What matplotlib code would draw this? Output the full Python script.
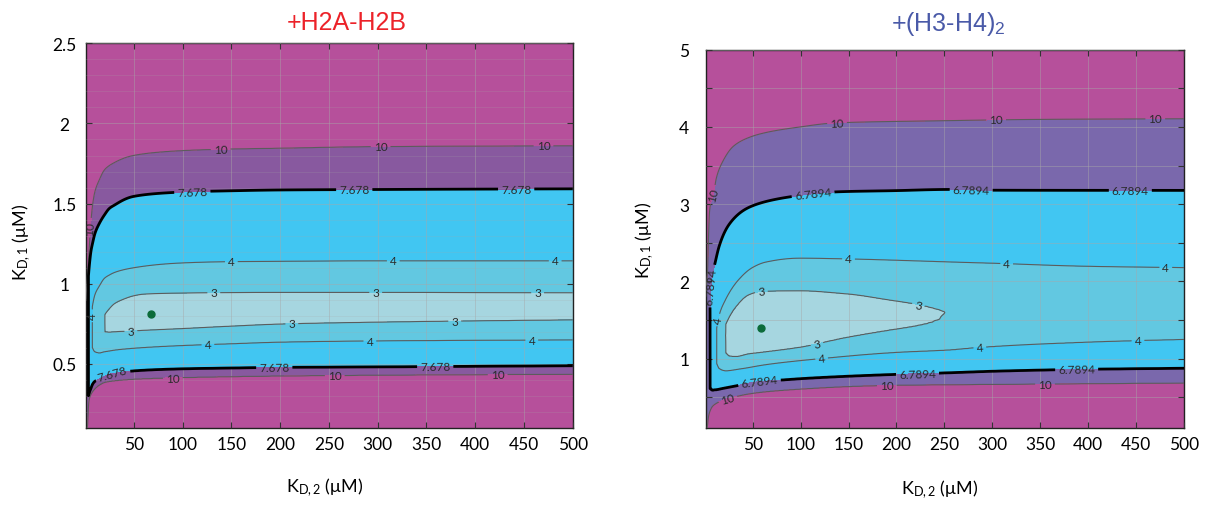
import numpy as np
import matplotlib
matplotlib.use('Agg')
import matplotlib.pyplot as plt
from matplotlib.ticker import MultipleLocator, FixedLocator

plt.rcParams['font.family'] = ['Lato', 'DejaVu Sans']
plt.rcParams['mathtext.fontset'] = 'custom'
plt.rcParams['mathtext.rm'] = 'Lato'
plt.rcParams['mathtext.it'] = 'Lato:italic'

# ------------------------------------------------------------------
# Data: contour crossings (KD,2 -> KD,1), levels
# ------------------------------------------------------------------
# Left panel: +H2A-H2B
L_title = '+H2A-H2B'
L_levels = [3, 4, 7.678, 10]
L_lo10_x = [1, 2.5, 4, 6, 8, 10, 15, 20, 30, 50, 100, 200, 300, 500]
L_lo10_y = [0.05, 0.11, 0.27, 0.31, 0.33, 0.345, 0.37, 0.385, 0.395, 0.405, 0.415, 0.425, 0.43, 0.436]
L_hi10_x = [1, 2.5, 4, 6, 8, 10, 15, 20, 30, 50, 100, 150, 200, 300, 500]
L_hi10_y = [0.90, 1.05, 1.19, 1.38, 1.50, 1.57, 1.652, 1.71, 1.755, 1.80, 1.83, 1.84, 1.845, 1.855, 1.86]
L_lo7_x = [3.5, 5, 6, 8, 10, 15, 20, 25, 30, 50, 100, 150, 200, 300, 500]
L_lo7_y = [0.30, 0.33, 0.345, 0.375, 0.39, 0.405, 0.42, 0.435, 0.44, 0.456, 0.469, 0.474, 0.478, 0.481, 0.488]
L_hi7_x = [3.5, 5, 6, 8, 10, 15, 20, 25, 30, 50, 100, 150, 200, 300, 500]
L_hi7_y = [1.05, 1.15, 1.20, 1.26, 1.31, 1.38, 1.43, 1.47, 1.49, 1.545, 1.572, 1.58, 1.585, 1.588, 1.592]
L_lo4_x = [7.5, 10, 15, 20, 25, 30, 50, 100, 150, 200, 300, 500]
L_lo4_y = [0.60, 0.575, 0.568, 0.575, 0.58, 0.585, 0.597, 0.614, 0.625, 0.635, 0.643, 0.649]
L_hi4_x = [7.5, 10, 15, 20, 25, 30, 50, 100, 150, 200, 300, 500]
L_hi4_y = [0.86, 0.93, 0.99, 1.035, 1.055, 1.07, 1.10, 1.13, 1.138, 1.14, 1.143, 1.143]
L_lo3_x = [20.5, 25, 30, 40, 50, 60, 100, 150, 200, 300, 500]
L_lo3_y = [0.70, 0.698, 0.70, 0.703, 0.706, 0.709, 0.72, 0.735, 0.748, 0.76, 0.774]
L_hi3_x = [20.5, 25, 30, 40, 50, 60, 100, 150, 200, 300, 500]
L_hi3_y = [0.81, 0.845, 0.875, 0.905, 0.925, 0.935, 0.942, 0.945, 0.946, 0.946, 0.944]
L_min_x = [1, 2.5, 3.5, 5, 6.5, 7.5, 10, 15, 19, 20, 20.5, 30, 68, 200, 500]
L_min_v = [8.3, 7.9, 6.5, 5.0, 4.2, 3.9, 3.6, 3.3, 3.08, 3.03, 2.9, 2.7, 2.5, 2.7, 2.8]
L_best = (68, 0.81)

# Right panel: +(H3-H4)2
R_title = '+(H3-H4)$_\\mathregular{2}$'
R_levels = [3, 4, 6.7894, 10]
R_lo10_x = [1, 3, 4, 5, 8, 12, 20, 29, 50, 100, 190, 350, 500]
R_lo10_y = [-0.2, 0.15, 0.25, 0.30, 0.38, 0.42, 0.465, 0.497, 0.55, 0.605, 0.652, 0.67, 0.683]
R_hi10_x = [1, 2, 3, 4, 5, 7, 9.5, 12, 20, 30, 50, 65, 100, 135, 250, 350, 500]
R_hi10_y = [1.8, 2.0, 2.15, 2.6, 2.9, 3.05, 3.15, 3.33, 3.58, 3.75, 3.88, 3.93, 4.0, 4.05, 4.08, 4.097, 4.105]
R_lo7_x = [5.6, 6.5, 8, 12, 20, 32.6, 50, 85, 100, 150, 203, 256, 300, 400, 500]
R_lo7_y = [0.61, 0.60, 0.59, 0.595, 0.615, 0.645, 0.69, 0.725, 0.738, 0.77, 0.795, 0.815, 0.834, 0.86, 0.873]
R_hi7_x = [5.6, 6.5, 8, 11, 15.2, 25.6, 46.5, 92, 140, 200, 256, 300, 500]
R_hi7_y = [1.75, 1.94, 2.08, 2.25, 2.46, 2.74, 2.96, 3.10, 3.16, 3.175, 3.19, 3.18, 3.178]
R_lo4_x = [12.5, 15, 22, 40, 64, 123, 203, 256, 290, 450, 500]
R_lo4_y = [0.93, 0.87, 0.84, 0.87, 0.92, 1.0, 1.08, 1.11, 1.145, 1.23, 1.245]
R_hi4_x = [12.5, 15, 22, 36, 50, 64, 100, 150, 300, 400, 500]
R_hi4_y = [1.40, 1.56, 1.77, 2.03, 2.18, 2.25, 2.30, 2.29, 2.235, 2.195, 2.178]
R_lo3_x = [22, 26, 33, 46.5, 60, 100, 150, 200, 220, 245, 250]
R_lo3_y = [1.07, 1.03, 1.025, 1.06, 1.08, 1.145, 1.275, 1.38, 1.42, 1.51, 1.585]
R_hi3_x = [22, 26, 33, 46.5, 60, 100, 150, 200, 220, 245, 250]
R_hi3_y = [1.45, 1.55, 1.68, 1.83, 1.87, 1.878, 1.836, 1.745, 1.706, 1.63, 1.605]
R_min_x = [1, 4.8, 5.6, 8, 11.5, 12.5, 18, 21, 22, 40, 60, 120, 200, 245, 256, 350, 500]
R_min_v = [8.0, 7.0, 6.0, 4.8, 4.1, 3.9, 3.3, 3.05, 2.95, 2.75, 2.7, 2.75, 2.85, 2.93, 3.05, 3.2, 3.35]
R_best = (59, 1.39)

x_ticks = [50, 100, 150, 200, 250, 300, 350, 400, 450, 500]

# contour-label anchor positions (KD,2, KD,1)
L_lab_thin = [(139, 1.84), (303, 1.855), (470, 1.86), (4.6, 1.35),
              (150, 1.14), (316, 1.143), (482, 1.143), (7.0, 0.80),
              (132, 0.945), (298, 0.946), (464, 0.944),
              (47, 0.706), (212, 0.75), (379, 0.765),
              (126, 0.62), (292, 0.643), (458, 0.649),
              (90, 0.413), (256, 0.428), (423, 0.434)]
L_lab_thick = [(110, 1.572), (276, 1.587), (442, 1.59),
               (28, 0.44), (194, 0.478), (359, 0.483)]
R_lab_thin = [(138, 4.05), (304, 4.09), (470, 4.10), (9.3, 3.12),
              (150, 2.29), (315, 2.23), (481, 2.18), (13, 1.5),
              (59, 1.87), (223, 1.70), (117, 1.19),
              (122, 1.0), (287, 1.14), (452, 1.23),
              (24, 0.475), (190, 0.652), (355, 0.67)]
R_lab_thick = [(113, 3.13), (278, 3.19), (444, 3.18), (6.5, 1.94),
               (57, 0.70), (222, 0.80), (388, 0.857)]

# colours
C_MAG = '#B6509B'
C_BLUE = '#41C6F2'
C_TEAL = '#62C8E1'
C_PALE = '#A6D6E0'
L_PURPLE = '#88599F'
R_PURPLE = '#7A68AC'


def pchip(x, y, xi):
    """Monotone cubic (Fritsch-Carlson) interpolation."""
    x = np.asarray(x, float)
    y = np.asarray(y, float)
    xi = np.asarray(xi, float)
    n = len(x)
    if n < 3:
        return np.interp(xi, x, y)
    h = np.diff(x)
    d = np.diff(y) / h
    m = np.zeros(n)
    m[0], m[-1] = d[0], d[-1]
    for k in range(1, n - 1):
        if d[k - 1] * d[k] > 0:
            w1 = 2 * h[k] + h[k - 1]
            w2 = h[k] + 2 * h[k - 1]
            m[k] = (w1 + w2) / (w1 / d[k - 1] + w2 / d[k])
    idx = np.clip(np.searchsorted(x, xi) - 1, 0, n - 2)
    t = (xi - x[idx]) / h[idx]
    h00 = 2 * t ** 3 - 3 * t ** 2 + 1
    h10 = t ** 3 - 2 * t ** 2 + t
    h01 = -2 * t ** 3 + 3 * t ** 2
    h11 = t ** 3 - t ** 2
    return h00 * y[idx] + h10 * h[idx] * m[idx] + h01 * y[idx + 1] + h11 * h[idx] * m[idx + 1]


def build_field(levels, los, his, min_x, min_v, xg, yg):
    cols = set(np.round(np.geomspace(1, 500, 260), 4))
    cols |= set(min_x)
    for xs, _ in los + his:
        cols |= set(xs)
    cols = np.array(sorted(cols), float)
    lc = np.log(cols)
    Zc = np.empty((len(cols), len(yg)))
    big = 40.0
    for i, c in enumerate(cols):
        pres = []
        for lev, (lx, ly), (hx, hy) in zip(levels, los, his):
            if lx[0] <= c <= lx[-1] and hx[0] <= c <= hx[-1]:
                lo = float(pchip(np.log(lx), ly, np.log(c)))
                hi = float(pchip(np.log(hx), hy, np.log(c)))
                pres.append((lev, lo, hi))
        pres.sort(key=lambda t: t[0])
        inner = pres[0][0]
        below = [l for l in levels if l < inner]
        lowb = max(below) + 0.02 if below else 0.5
        m = float(np.clip(np.interp(np.log(c), np.log(min_x), min_v), lowb, inner - 0.02))
        y0 = 0.5 * (pres[0][1] + pres[0][2])
        ky = [yg[0] - 10]
        kv = [big]
        for lev, lo, hi in reversed(pres):
            ky.append(lo)
            kv.append(lev)
        ky.append(y0)
        kv.append(m)
        for lev, lo, hi in pres:
            ky.append(hi)
            kv.append(lev)
        ky.append(yg[-1] + 10)
        kv.append(big)
        Zc[i] = np.interp(yg, ky, kv)
    lxg = np.log(xg)
    Z = np.empty((len(yg), len(xg)))
    for j in range(len(yg)):
        Z[j] = np.interp(lxg, lc, Zc[:, j])
    return Z


fig = plt.figure(figsize=(12.12, 5.06), dpi=100)
axL = fig.add_axes([86 / 1212, 1 - 429 / 506, (572.75 - 86) / 1212, (429 - 44.3) / 506])
axR = fig.add_axes([705.7 / 1212, 1 - 429 / 506, (1184 - 705.7) / 1212, (429 - 50.7) / 506])

xg = np.unique(np.concatenate([np.linspace(1, 30, 800), np.linspace(30, 500, 1000)]))

panels = [
    (axL, L_levels, [(L_lo3_x, L_lo3_y), (L_lo4_x, L_lo4_y), (L_lo7_x, L_lo7_y), (L_lo10_x, L_lo10_y)],
     [(L_hi3_x, L_hi3_y), (L_hi4_x, L_hi4_y), (L_hi7_x, L_hi7_y), (L_hi10_x, L_hi10_y)],
     L_min_x, L_min_v, (0.1, 2.5), L_PURPLE, L_best, L_lab_thin, L_lab_thick, '7.678'),
    (axR, R_levels, [(R_lo3_x, R_lo3_y), (R_lo4_x, R_lo4_y), (R_lo7_x, R_lo7_y), (R_lo10_x, R_lo10_y)],
     [(R_hi3_x, R_hi3_y), (R_hi4_x, R_hi4_y), (R_hi7_x, R_hi7_y), (R_hi10_x, R_hi10_y)],
     R_min_x, R_min_v, (0.1, 5.0), R_PURPLE, R_best, R_lab_thin, R_lab_thick, '6.7894'),
]

for ax, levels, los, his, mx, mv, ylim, purple, best, lab_thin, lab_thick, tlab in panels:
    yg = np.linspace(ylim[0], ylim[1], 1000)
    Z = build_field(levels, los, his, mx, mv, xg, yg)
    X, Y = np.meshgrid(xg, yg)
    ax.contourf(X, Y, Z, levels=[0, levels[0], levels[1], levels[2], levels[3], 100],
                colors=[C_PALE, C_TEAL, C_BLUE, purple, C_MAG], zorder=0)
    cs1 = ax.contour(X, Y, Z, levels=[levels[0], levels[1], levels[3]], colors='#5c5c5c',
                     linewidths=0.8, zorder=3)
    cs2 = ax.contour(X, Y, Z, levels=[levels[2]], colors='black', linewidths=2.0, zorder=3)
    fmt1 = {levels[0]: '3', levels[1]: '4', levels[3]: '10'}
    ax.clabel(cs1, fmt=fmt1, manual=lab_thin, inline=True, fontsize=8.5, colors='#2a2a2a',
              inline_spacing=3)
    ax.clabel(cs2, fmt={levels[2]: tlab}, manual=lab_thick, inline=True, fontsize=8.5,
              colors='#2a2a2a', inline_spacing=3)
    ax.plot([best[0]], [best[1]], 'o', color='#0B6B3A', ms=5, zorder=5)
    ax.set_xlim(1, 500)
    ax.set_ylim(*ylim)
    ax.xaxis.set_major_locator(FixedLocator(x_ticks))
    ax.tick_params(axis='both', which='both', direction='in', top=True, right=True,
                   length=4.5, width=0.8, color='#333333', labelsize=12.5)
    ax.tick_params(axis='x', pad=5.5)
    ax.tick_params(axis='y', pad=15.5)
    for sp in ax.spines.values():
        sp.set_linewidth(1.0)
        sp.set_color('#222222')
    ax.set_axisbelow(False)

# y ticks / grids
axL.yaxis.set_major_locator(FixedLocator([0.5, 1, 1.5, 2, 2.5]))
axL.set_yticklabels(['0.5', '1', '1.5', '2', '2.5'])
axL.yaxis.set_minor_locator(MultipleLocator(0.1))
axL.tick_params(axis='y', which='minor', length=0)
axR.yaxis.set_major_locator(FixedLocator([1, 2, 3, 4, 5]))
axR.set_yticklabels(['1', '2', '3', '4', '5'])
axR.yaxis.set_minor_locator(MultipleLocator(0.5))

for ax in (axL, axR):
    ax.grid(True, axis='x', which='major', color='#a8a8a8', alpha=0.45, lw=0.7, zorder=2)
    ax.grid(True, axis='y', which='major', color='#a8a8a8', alpha=0.45, lw=0.7, zorder=2)
    for lab in ax.get_yticklabels():
        lab.set_horizontalalignment('center')
axL.grid(True, axis='y', which='minor', color='#a8a8a8', alpha=0.22, lw=0.6, zorder=2)
axR.grid(True, axis='y', which='minor', color='#a8a8a8', alpha=0.45, lw=0.7, zorder=2)

# titles
fig.text(347 / 1212, 1 - 30.5 / 506, L_title, color='#EC2229', fontsize=18,
         family='Liberation Sans', ha='center', va='baseline')
fig.text(948 / 1212, 1 - 30.5 / 506, R_title, color='#4A5AA8', fontsize=18,
         family='Liberation Sans', ha='center', va='baseline')

# axis labels
fig.text(325 / 1212, 1 - 488 / 506, 'K$_\\mathregular{D,2}$ (μM)', fontsize=13,
         ha='center', va='center')
fig.text(940 / 1212, 1 - 490 / 506, 'K$_\\mathregular{D,2}$ (μM)', fontsize=13,
         ha='center', va='center')
fig.text(22 / 1212, 1 - 242 / 506, 'K$_\\mathregular{D,1}$ (μM)', fontsize=13,
         ha='center', va='center', rotation=90)
fig.text(645 / 1212, 1 - 240 / 506, 'K$_\\mathregular{D,1}$ (μM)', fontsize=13,
         ha='center', va='center', rotation=90)

fig.savefig('out.png', dpi=100)
